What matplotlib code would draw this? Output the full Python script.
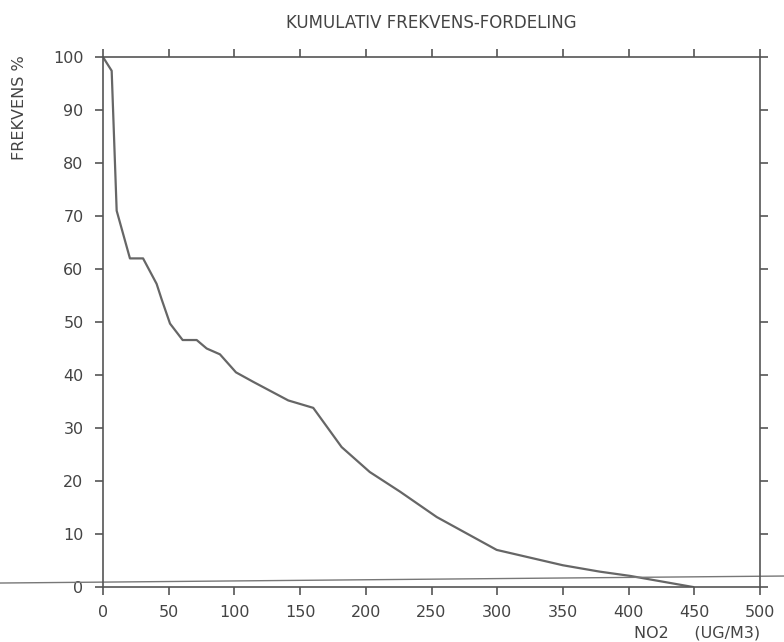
import matplotlib.pyplot as plt

# Cumulative frequency distribution, NO2 (ug/m3) vs frequency %
no2 = [0, 1.5, 6.6, 10.4, 20.5, 30.5, 40.8, 44.6, 51, 60.6, 71.3, 78.9, 89, 101.2,
       114.4, 141, 160, 181.6, 203, 226, 254, 299.6, 350, 378, 401, 449]
freq = [100, 99.4, 97.4, 71, 62, 62, 57.2, 54.3, 49.7, 46.6, 46.6, 45, 43.9, 40.5,
        38.7, 35.2, 33.8, 26.4, 21.7, 18, 13.2, 7.0, 4.1, 2.9, 2.1, 0]

x_ticks = list(range(0, 501, 50))
y_ticks = list(range(0, 101, 10))

# stray ruled line on the scanned sheet (data coords, extends outside axes)
scan_x = [-78.4, 518.3]
scan_y = [0.75, 2.07]

ink = '#555555'
txt = '#444444'

fig = plt.figure(figsize=(7.84, 6.42), dpi=100)
ax = fig.add_axes([103 / 784, 1 - 587 / 642, 657 / 784, 530 / 642])

ax.plot(no2, freq, color='#666666', linewidth=1.6)
ax.plot(scan_x, scan_y, color='#777777', linewidth=1.0, clip_on=False)

ax.set_xlim(0, 500)
ax.set_ylim(0, 100)
ax.set_xticks(x_ticks)
ax.set_yticks(y_ticks)

for s in ax.spines.values():
    s.set_color(ink)
    s.set_linewidth(1.2)

ax.tick_params(direction='out', length=6, width=1.2, color=ink,
               labelcolor=txt, labelsize=11.5, top=True, right=True,
               labeltop=False, labelright=False)
ax.tick_params(axis='x', pad=7)
ax.tick_params(axis='y', pad=8)

ax.set_title('KUMULATIV FREKVENS-FORDELING', color=txt, fontsize=12, pad=21)
ax.set_xlabel('NO2     (UG/M3)', color=txt, fontsize=11.5, loc='right', labelpad=4)
fig.text(20 / 784, 1 - 55 / 642, 'FREKVENS %', rotation=90, va='top', ha='center',
         color=txt, fontsize=11.5)

fig.savefig('out.png', dpi=100)
